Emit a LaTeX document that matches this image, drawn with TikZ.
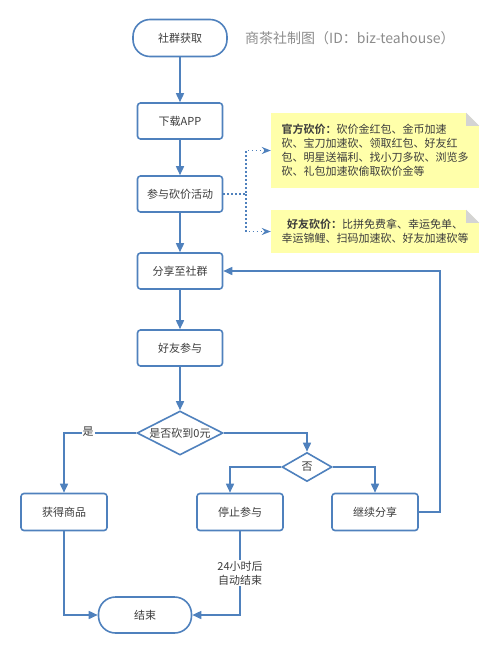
\documentclass[tikz,border=0pt]{standalone}
\usepackage{fontspec}
\setmainfont{Noto Sans CJK SC}[BoldFont={Noto Sans CJK SC Bold}]
\usepackage{tikz}
\usetikzlibrary{positioning}
\usetikzlibrary{arrows.meta,shapes.geometric}
\usetikzlibrary{calc}

\definecolor{lineblue}{RGB}{79,129,189}
\definecolor{noteyellow}{RGB}{255,255,170}
\definecolor{foldgray}{RGB}{212,212,212}
\definecolor{titlegray}{RGB}{140,140,140}
\definecolor{txtgray}{RGB}{60,60,60}

\tikzset{
  box/.style={draw=lineblue, line width=1.6pt, fill=white, rounded corners=3pt,
    minimum width=86pt, minimum height=36pt, inner sep=1pt,
    font=\fontsize{11}{14}\selectfont, text=txtgray},
  term/.style={box, rounded corners=17pt, minimum width=94pt},
  ask/.style={diamond, aspect=2, draw=lineblue, line width=1.6pt, fill=white,
    inner sep=0pt, font=\fontsize{11}{14}\selectfont, text=txtgray},
  note/.style={fill=noteyellow, minimum width=208pt, inner xsep=9pt,
    font=\fontsize{11}{14}\selectfont, text=txtgray},
  flow/.style={draw=lineblue, line width=1.6pt, -{Triangle[length=9pt,width=8pt]}},
  dotflow/.style={draw=lineblue, line width=1.6pt, dash pattern=on 1.6pt off 2.4pt,
    -{Stealth[length=9pt,width=7pt]}},
  tag/.style={fill=white, inner sep=1pt, font=\fontsize{11}{14}\selectfont, text=txtgray, align=center}
}

\begin{document}
\begin{tikzpicture}[x=1pt, y=-1pt]
  \useasboundingbox (0,0) rectangle (500,654);

  \def\cx{180};

  %start and title
  \node[term, minimum height=37pt] (start) at (\cx, 38) {社群获取};
  \node[anchor=west, inner sep=0pt, text=titlegray, font=\fontsize{14}{16}\selectfont] (title) at (245, 38) {商茶社制图（ID：biz-teahouse）};

  %main column
  \foreach \y/\txt/\name in {121/下载APP/app, 194/参与砍价活动/join, 271/分享至社群/share, 348/好友参与/friend}{
      \node[box, minimum width=85pt] (\name) at (\cx, \y) {\txt};
  }

  %decisions
  \node[ask, minimum width=86pt, minimum height=44pt] (q) at (\cx, 433) {是否砍到0元};
  \node[ask, aspect=1.7, minimum width=50pt, minimum height=29pt] (q2) at (307, 467) {否};

  %bottom row
  \foreach \x/\txt/\name in {64/获得商品/gain, 240/停止参与/stop, 375/继续分享/cont}{
      \node[box, minimum height=37pt] (\name) at (\x, 512) {\txt};
  }
  \node[term, minimum width=93pt] (fin) at (145, 615) {结束};

  %notes
  \node[note, minimum height=75pt, align=left] (n1) at (375, 150.5)
     {\textbf{官方砍价：}砍价金红包、金币加速\\砍、宝刀加速砍、领取红包、好友红\\包、明星送福利、找小刀多砍、浏览多\\砍、礼包加速砍偷取砍价金等};
  \node[note, minimum height=43pt, align=center] (n2) at (375, 231.5)
     {\textbf{好友砍价：}比拼免费拿、幸运免单、\\幸运锦鲤、扫码加速砍、好友加速砍等};
  \foreach \n in {n1, n2}{
      \fill[white] ([xshift=-13pt]\n.north east) -- (\n.north east) -- ([yshift=-13pt]\n.north east) -- cycle;
      \fill[foldgray] ([xshift=-13pt]\n.north east) -- ([yshift=-13pt]\n.north east) -- ([xshift=-13pt, yshift=-13pt]\n.north east) -- cycle;
  }

  %connectors
  \draw[flow] (start) -- (app);
  \draw[flow] (app) -- (join);
  \draw[flow] (join) -- (share);
  \draw[flow] (share) -- (friend);
  \draw[flow] (friend) -- (q);

  \coordinate (split) at (246, 194);
  \draw[dotflow] (join.east) -- (split) |- (n1.west);
  \draw[dotflow] (split) |- (n2.west);

  \draw[flow] (q.west) -| (gain.north);
  \node[tag] (yes) at (88, 432) {是};
  \draw[flow] (q.east) -| (q2.north);
  \draw[flow] (q2.west) -| ([xshift=-10pt]stop.north);
  \draw[flow] (q2.east) -| (cont.north);

  \draw[flow] (cont.east) -- ++(21, 0) |- (share.east);
  \draw[flow] (gain.south) |- (fin.west);
  \draw[flow] (stop.south) |- node[tag, pos=0.25] (auto) {24小时后\\自动结束} (fin.east);

\end{tikzpicture}
\end{document}
